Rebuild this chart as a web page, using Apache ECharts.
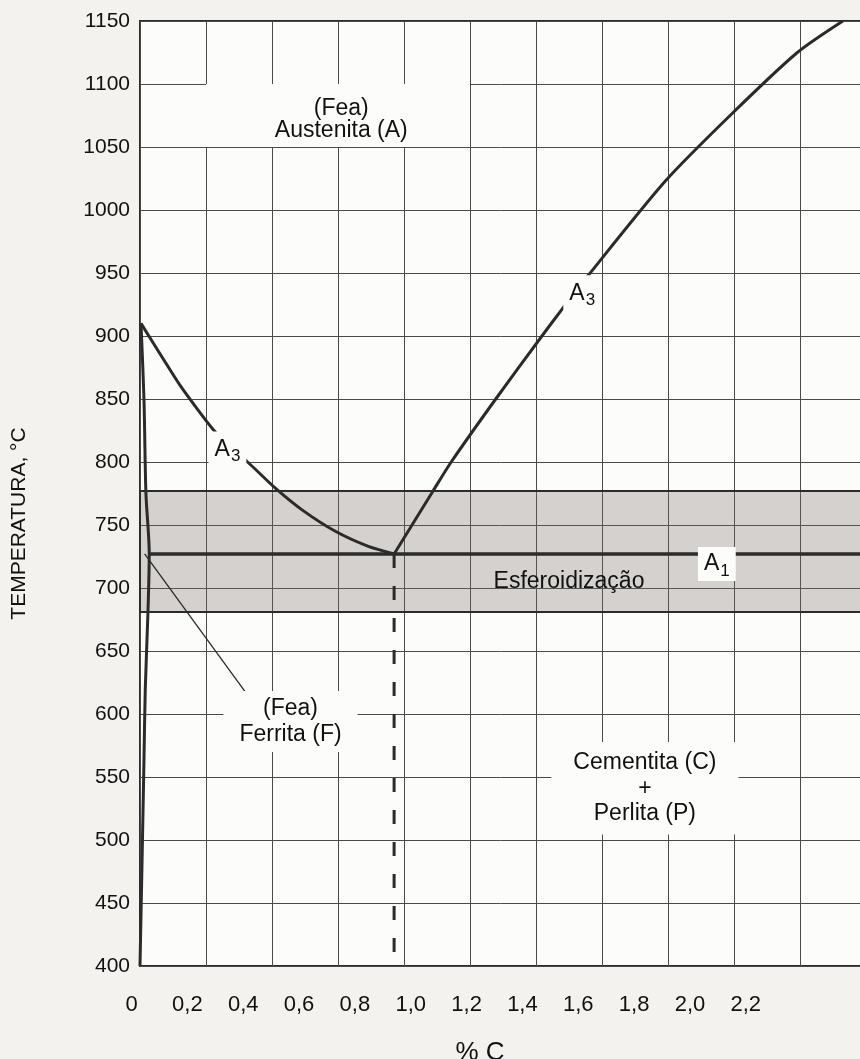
<!DOCTYPE html>
<html>
<head>
<meta charset="utf-8">
<script src="https://cdn.jsdelivr.net/npm/echarts/dist/echarts.min.js"></script>
<style>
html, body { margin: 0; padding: 0; background: #f3f2ef; }
#chart { width: 860px; height: 1059px; }
</style>
</head>
<body>
<div id="chart"></div>
<script>
// eixo x (% C) e rótulos impressos na figura
var xTickLabels = ['0', '0,2', '0,4', '0,6', '0,8', '1,0', '1,2', '1,4', '1,6', '1,8', '2,0', '2,2'];

// linhas do diagrama: [%C, °C]
var a3Left = [[0.003, 910], [0.07, 882], [0.121, 861], [0.171, 843], [0.221, 826], [0.27, 812],
    [0.326, 800], [0.411, 779], [0.491, 762], [0.592, 745], [0.692, 733], [0.77, 727]];
var a3Right = [[0.77, 727], [0.888, 777], [0.943, 800], [1.078, 850], [1.218, 900], [1.278, 921],
    [1.358, 948], [1.592, 1023], [1.792, 1076], [1.992, 1125], [2.13, 1150]];
var ferrite = [[0.003, 910], [0.012, 850], [0.018, 775], [0.028, 727], [0.024, 680],
    [0.016, 620], [0.012, 563], [0.006, 480], [0, 400]];
var a1Line = [[0.028, 727], [2.2, 727]];
var eutectoid = [[0.77, 727], [0.77, 400]];
var leader = [[0.014, 727], [0.34, 610]];

// faixa de esferoidização e fundo do rótulo da austenita
var bandC = [0, 2.2];
var bandT = [777, 681];
var austBoxC = [0.2, 1.0];
var austBoxT = [1100, 1050];

// textos
var noteText = ['(Fea)\nAustenita (A)', '{a|A}{s|3}', '{a|A}{s|3}', '{a|A}{s|1}',
    'Esferoidização', '(Fea)\nFerrita (F)', 'Cementita (C)\n+\nPerlita (P)'];
var noteC = [0.61, 0.265, 1.34, 1.748, 1.30, 0.456, 1.53];
var noteT = [1071.5, 810, 934, 719, 705, 594, 541];

var FONT = '"Liberation Sans", Arial, sans-serif';
var INK = '#2b2b2b';
var TEXT = '#111';
var PAPER = '#fcfcfb';
var GRIDLINE = '#4a4a4a';

var chart = echarts.init(document.getElementById('chart'));

function lineSeries(data, width, extra) {
    var s = {
        type: 'line',
        data: data,
        xAxisIndex: 0,
        symbol: 'none',
        silent: true,
        z: 3,
        lineStyle: { color: INK, width: width }
    };
    for (var k in extra) s[k] = extra[k];
    return s;
}

// fundo branco só em alguns rótulos
var boxed = [false, true, true, true, false, true, true];
var boxPad = [0, [5, 6], [5, 6], [4, 6], 0, [5, 16], [8, 22]];
var lineH = [22, 26, 26, 26, 26, 25.5, 25.5];
var notes = noteText.map(function(t, i) {
    return {
        value: [noteC[i], noteT[i]],
        label: {
            formatter: t,
            lineHeight: lineH[i],
            backgroundColor: boxed[i] ? PAPER : 'transparent',
            padding: boxPad[i]
        }
    };
});

var option = {
    backgroundColor: '#f3f2ef',
    animation: false,
    grid: {
        left: 140, top: 21, width: 726, height: 945,
        containLabel: false, outerBoundsMode: 'none',
        show: true, backgroundColor: PAPER,
        borderColor: INK, borderWidth: 2
    },
    xAxis: [{
        type: 'value', min: 0, max: 2.2, interval: 0.2,
        axisLine: { show: false }, axisTick: { show: false },
        axisLabel: { show: false },
        splitLine: { show: true, lineStyle: { color: GRIDLINE, width: 1 } }
    }, {
        type: 'value', min: 0, max: 2.6, interval: 0.2, position: 'bottom',
        axisLine: { show: false }, axisTick: { show: false },
        splitLine: { show: false },
        axisLabel: {
            color: TEXT, fontFamily: FONT, fontSize: 22, margin: 28,
            padding: [0, 17, 0, 0],
            formatter: function(v, i) { return xTickLabels[i] || ''; }
        },
        name: '% C', nameLocation: 'middle', nameGap: 74,
        nameTextStyle: { color: TEXT, fontFamily: FONT, fontSize: 26, padding: [0, 46, 0, 0] }
    }],
    yAxis: {
        type: 'value', min: 400, max: 1150, interval: 50,
        axisLine: { show: false }, axisTick: { show: false },
        axisLabel: {
            color: TEXT, fontFamily: FONT, fontSize: 21, margin: 10,
            formatter: function(v) { return String(v); }
        },
        splitLine: { show: true, lineStyle: { color: GRIDLINE, width: 1 } },
        name: 'TEMPERATURA, °C', nameLocation: 'middle', nameGap: 110, nameRotate: 90,
        nameTextStyle: { color: TEXT, fontFamily: FONT, fontSize: 21, padding: [0, 60, 0, 0] }
    },
    series: [
        {
            type: 'line', data: [], xAxisIndex: 0, silent: true, z: 1,
            markArea: {
                silent: true,
                data: [
                    [{ coord: [bandC[0], bandT[0]],
                       itemStyle: { color: 'rgba(120,110,104,0.30)', borderColor: INK, borderWidth: 2 } },
                     { coord: [bandC[1], bandT[1]] }],
                    [{ coord: [austBoxC[0], austBoxT[0]],
                       itemStyle: { color: PAPER, borderWidth: 0 } },
                     { coord: [austBoxC[1], austBoxT[1]] }]
                ]
            }
        },
        lineSeries(a1Line, 3.5),
        lineSeries(a3Left, 3, { smooth: 0.25 }),
        lineSeries(a3Right, 3, { smooth: 0.25 }),
        lineSeries(ferrite, 3, { smooth: 0.3 }),
        lineSeries(leader, 1.3),
        lineSeries(eutectoid, 3, { lineStyle: { color: INK, width: 3, type: [14, 18] } }),
        {
            type: 'scatter', data: notes, xAxisIndex: 0, symbolSize: 0, silent: true, z: 10,
            itemStyle: { opacity: 1, color: 'transparent' },
            label: {
                show: true, position: 'inside', color: TEXT,
                fontFamily: FONT, fontSize: 23, align: 'center',
                rich: {
                    a: { fontFamily: FONT, fontSize: 23, color: TEXT },
                    s: { fontFamily: FONT, fontSize: 17, color: TEXT, padding: [14, 0, 0, 1] }
                }
            }
        }
    ]
};

chart.setOption(option);
</script>
</body>
</html>
